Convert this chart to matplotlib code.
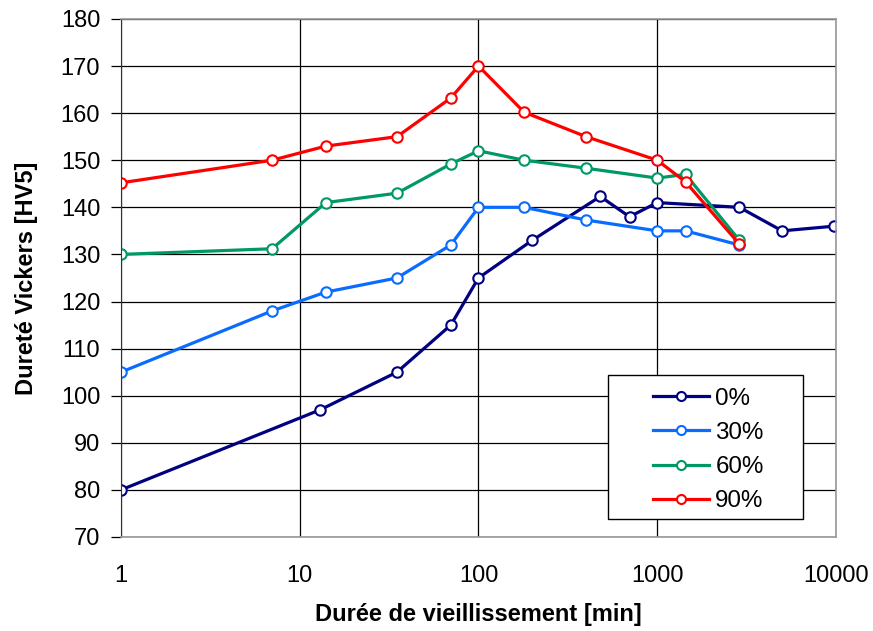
import matplotlib
matplotlib.use('Agg')
import matplotlib.pyplot as plt
from matplotlib.patches import Rectangle
from matplotlib.ticker import FixedLocator, NullLocator

plt.rcParams['font.family'] = ['Liberation Sans', 'DejaVu Sans']

# 0 %
t_0 = [1, 13, 35, 70, 100, 200, 480, 700, 1000, 2880, 5000, 9800]
hv_0 = [80, 97, 105, 115, 125, 133, 142.3, 138, 141, 140, 135, 136]
# 30 %
t_30 = [1, 7, 14, 35, 70, 100, 180, 400, 1000, 1440, 2880]
hv_30 = [105, 118, 122, 125, 132, 140, 140, 137.3, 135, 135, 132]
# 60 %
t_60 = [1, 7, 14, 35, 70, 100, 180, 400, 1000, 1440, 2880]
hv_60 = [130, 131.2, 141, 143, 149.2, 152, 150, 148.3, 146.2, 147, 133]
# 90 %
t_90 = [1, 7, 14, 35, 70, 100, 180, 400, 1000, 1440, 2880]
hv_90 = [145.2, 150, 153, 155, 163.2, 170, 160.2, 155, 150, 145.4, 132.2]

labels = ['0%', '30%', '60%', '90%']
colors = ['#000080', '#0a6cff', '#009966', '#ff0000']

fig = plt.figure(figsize=(8.73, 6.31), dpi=100)
ax = fig.add_axes([0.1386, 0.149, 0.819, 0.821])

for t, hv, lab, c in zip([t_0, t_30, t_60, t_90], [hv_0, hv_30, hv_60, hv_90], labels, colors):
  ax.plot(t, hv, '-o', color=c, lw=2.3, ms=7.5, mfc='white', mec=c, mew=1.5, label=lab)

ax.set_xscale('log')
ax.set_xlim(1, 10000)
ax.set_ylim(70, 180)
ax.xaxis.set_major_locator(FixedLocator([1, 10, 100, 1000, 10000]))
ax.xaxis.set_minor_locator(NullLocator())
ax.set_xticklabels(['1', '10', '100', '1000', '10000'])
ax.set_yticks(range(70, 181, 10))
ax.grid(True, color='black', lw=0.9)
ax.set_axisbelow(True)
for s in ['top', 'right', 'bottom']:
  ax.spines[s].set_color('#999999')
  ax.spines[s].set_linewidth(1.2)
ax.spines['left'].set_color('#333333')
ax.tick_params(axis='x', length=0, pad=20, labelsize=17)
ax.tick_params(axis='y', length=7, width=0.9, pad=8, labelsize=17)

ax.set_xlabel('Durée de vieillissement [min]', fontsize=17, fontweight='bold', labelpad=12)
ax.set_ylabel('Dureté Vickers [HV5]', fontsize=17, fontweight='bold', labelpad=16)

# legend box (Excel style, content centred in a wide frame)
ax.add_patch(Rectangle((0.681, 0.035), 0.273, 0.278, transform=ax.transAxes,
                       facecolor='white', edgecolor='black', lw=1.0, zorder=5))
leg = ax.legend(loc='center left', bbox_to_anchor=(0.744, 0.168), fontsize=17.4, frameon=False,
                handlelength=2.33, borderpad=0, labelspacing=0.5, handletextpad=0.25,
                borderaxespad=0)
leg.set_zorder(6)
for h in leg.legend_handles:
  h.set_markersize(6.5)

plt.savefig('out.png', dpi=100)
